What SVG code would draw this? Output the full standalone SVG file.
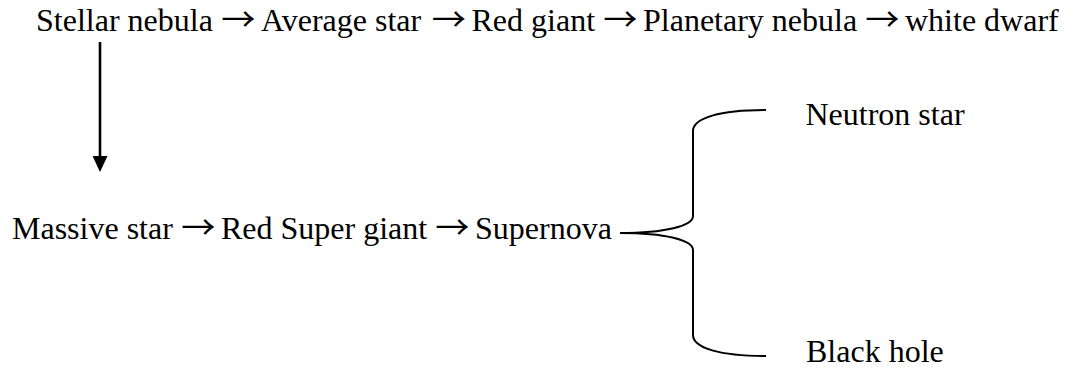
<svg xmlns="http://www.w3.org/2000/svg" width="1069" height="370" viewBox="0 0 1069 370">
<style>
text{font-family:"Liberation Serif","Times New Roman",serif;font-size:32px;fill:#000}
text.ar{font-family:"Noto Sans CJK SC","DejaVu Sans",sans-serif;font-size:32px}
.ln{fill:none;stroke:#000;stroke-width:2}
.v{fill:none;stroke:#000;stroke-width:2.6}
</style>
<defs>
<marker id="ah" viewBox="0 0 16 15" refX="2" refY="7.5" markerWidth="16" markerHeight="15" markerUnits="userSpaceOnUse" orient="auto">
<path d="M0,0 L16,7.5 L0,15 z" fill="#000"/>
</marker>
</defs>
<rect width="1069" height="370" fill="#fff"/>
<g id="top-chain">
<text x="36" y="31">Stellar nebula</text>
<text class="ar" transform="translate(221.3,31) scale(1.07,1)">→</text>
<text x="261" y="31">Average star</text>
<text class="ar" transform="translate(431.8,31) scale(1.07,1)">→</text>
<text x="471.5" y="31">Red giant</text>
<text class="ar" transform="translate(603.3,31) scale(1.07,1)">→</text>
<text x="643" y="31">Planetary nebula</text>
<text class="ar" transform="translate(865.3,31) scale(1.07,1)">→</text>
<text x="905" y="31">white dwarf</text>
</g>
<g id="massive-chain">
<text x="12" y="239">Massive star</text>
<text class="ar" transform="translate(181.3,239) scale(1.07,1)">→</text>
<text x="221" y="239">Red Super giant</text>
<text class="ar" transform="translate(435.3,239) scale(1.07,1)">→</text>
<text x="475" y="239">Supernova</text>
</g>
<g id="neutron-star"><text x="805.5" y="125">Neutron star</text></g>
<g id="black-hole"><text x="806" y="362">Black hole</text></g>
<g id="connectors">
<path class="v" d="M100,42 L100,158" marker-end="url(#ah)"/>
<path class="ln" d="M620,233 C665,233 693,226 693,216 L693,131 C693,118 720,110 766,110"/>
<path class="ln" d="M620,233 C665,233 693,240 693,250 L693,335 C693,348 720,356 766,356"/>
</g>
</svg>
